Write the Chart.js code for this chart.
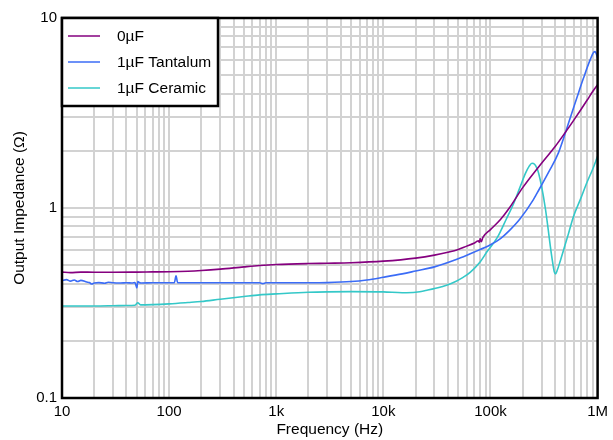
<!DOCTYPE html>
<html>
<head>
<meta charset="utf-8">
<script src="https://cdn.jsdelivr.net/npm/chart.js@4.4.1/dist/chart.umd.min.js"></script>
<style>
  body { margin: 0; background: #fff; }
  #wrap { width: 613px; height: 440px; }
</style>
</head>
<body>
<div id="wrap"><canvas id="impedanceChart" width="613" height="440"></canvas></div>
<script>
// 0uF
const freq0 = [10, 12, 15, 20, 30, 50, 70, 100, 150, 200, 300, 500, 700, 1000, 2000, 3000, 5000, 10000,
  20000, 30000, 40000, 50000, 60000, 70000, 75000, 77000, 79000, 80000, 82000, 85000, 100000, 124000,
  150000, 200000, 300000, 400000, 500000, 600000, 700000, 800000, 900000, 1000000];
const z0 = [0.46, 0.457, 0.46, 0.459, 0.459, 0.46, 0.461, 0.462, 0.465, 0.469, 0.477, 0.49, 0.498, 0.504, 0.51, 0.512, 0.515, 0.525,
  0.545, 0.565, 0.585, 0.605, 0.63, 0.652, 0.668, 0.672, 0.66, 0.69, 0.665, 0.7, 0.77, 0.87,
  1.0, 1.28, 1.72, 2.1, 2.5, 2.9, 3.3, 3.7, 4.1, 4.45];

// 1uF Tantalum
const freqT = [10, 11, 12, 13, 14, 15, 17, 18, 19, 20, 22, 25, 27, 30, 35, 40, 45, 48, 50, 51, 53, 55, 70, 100,
  112, 116, 120, 150, 300, 700, 750, 800, 1000, 2000, 3000, 5000, 7000, 10000, 15000, 20000, 30000, 50000,
  70000, 100000, 124000, 150000, 190000, 250000, 282000, 350000, 431000, 554000, 650000, 736000, 850000,
  920000, 950000, 980000, 1000000];
const zT = [0.415, 0.42, 0.412, 0.418, 0.41, 0.416, 0.408, 0.405, 0.398, 0.403, 0.405, 0.402, 0.407, 0.404, 0.403, 0.404, 0.403, 0.405, 0.38, 0.41, 0.404, 0.403, 0.404, 0.404,
  0.405, 0.44, 0.405, 0.404, 0.404, 0.404, 0.4, 0.404, 0.404, 0.404, 0.405, 0.41, 0.418, 0.432, 0.45, 0.466, 0.49, 0.54,
  0.585, 0.64, 0.69, 0.76, 0.88, 1.1, 1.24, 1.55, 1.95, 2.97, 3.9, 4.8, 6.0,
  6.6, 6.65, 6.4, 6.1];

// 1uF Ceramic
const freqC = [10, 15, 20, 30, 40, 48, 51, 54, 70, 100, 150, 200, 300, 500, 700, 1000, 2000, 3000, 5000, 10000,
  15000, 20000, 26000, 35000, 43000, 55000, 65000, 80000, 93000, 116000, 140000, 165000, 190000, 212000,
  230000, 244000, 258000, 270000, 282000, 300000, 325000, 345000, 362000, 380000, 395000, 405000, 420000,
  450000, 481000, 530000, 595000, 700000, 790000, 900000, 1000000];
const zC = [0.305, 0.305, 0.305, 0.306, 0.307, 0.308, 0.317, 0.309, 0.31, 0.313, 0.318, 0.322, 0.331, 0.342, 0.349, 0.353, 0.36, 0.362, 0.363, 0.362,
  0.358, 0.36, 0.37, 0.385, 0.4, 0.43, 0.46, 0.52, 0.59, 0.7, 0.87, 1.06, 1.3, 1.52,
  1.66, 1.72, 1.7, 1.63, 1.52, 1.3, 1.0, 0.78, 0.63, 0.52, 0.46, 0.45, 0.47,
  0.53, 0.6, 0.72, 0.9, 1.13, 1.35, 1.6, 1.87];

const seriesLabels = ["0\u00b5F", "1\u00b5F Tantalum", "1\u00b5F Ceramic"];
const seriesColors = ["#85007f", "#3b6cf6", "#34c8c8"];

const xDecades = [10, 100, 1000, 10000, 100000, 1000000];
const xTickLabels = ["10", "100", "1k", "10k", "100k", "1M"];
const yDecades = [0.1, 1, 10];
const yTickLabels = ["0.1", "1", "10"];

const FONT = "'Liberation Sans', Arial, sans-serif";

function toPoints(xs, ys) {
  return xs.map((x, i) => ({ x, y: ys[i] }));
}

// 1..9 x each decade, for the grid
function logTicks(decades) {
  const out = [];
  decades.forEach((d, i) => {
    const last = i === decades.length - 1;
    for (let m = 1; m <= (last ? 1 : 9); m++) {
      out.push({ value: Number((m * d).toPrecision(10)) });
    }
  });
  return out;
}

function labelFor(decades, labels, value) {
  const idx = decades.findIndex((d) => Math.abs(d - value) / d < 1e-6);
  return idx >= 0 ? labels[idx] : "";
}

const boxPlugin = {
  id: "boxAndLegend",
  afterDraw(chart) {
    const { ctx, chartArea: a } = chart;
    ctx.save();
    ctx.strokeStyle = "#000";
    ctx.lineWidth = 2.5;
    ctx.strokeRect(a.left, a.top, a.right - a.left, a.bottom - a.top);

    // legend box in upper left corner
    const lx = a.left, ly = a.top, lw = 156, lh = 88;
    ctx.fillStyle = "#fff";
    ctx.fillRect(lx, ly, lw, lh);
    ctx.strokeRect(lx, ly, lw, lh);
    ctx.font = "15.5px " + FONT;
    ctx.textBaseline = "middle";
    chart.data.datasets.forEach((ds, i) => {
      const yy = ly + 18 + i * 26;
      ctx.strokeStyle = ds.borderColor;
      ctx.lineWidth = 1.5;
      ctx.beginPath();
      ctx.moveTo(lx + 6, yy);
      ctx.lineTo(lx + 38, yy);
      ctx.stroke();
      ctx.fillStyle = "#000";
      ctx.fillText(ds.label, lx + 55, yy + 1);
    });
    ctx.restore();
  }
};

const ctx = document.getElementById("impedanceChart").getContext("2d");

new Chart(ctx, {
  type: "line",
  data: {
    datasets: [
      { label: seriesLabels[0], data: toPoints(freq0, z0), borderColor: seriesColors[0] },
      { label: seriesLabels[1], data: toPoints(freqT, zT), borderColor: seriesColors[1] },
      { label: seriesLabels[2], data: toPoints(freqC, zC), borderColor: seriesColors[2] }
    ].map((d) => ({ ...d, borderWidth: 1.6, pointRadius: 0, cubicInterpolationMode: "monotone", fill: false }))
  },
  options: {
    responsive: false,
    animation: false,
    layout: { padding: { top: 18, right: 12, left: 0, bottom: 0 } },
    plugins: {
      legend: { display: false },
      tooltip: { enabled: false }
    },
    scales: {
      x: {
        type: "logarithmic",
        min: 10,
        max: 1000000,
        afterBuildTicks: (scale) => { scale.ticks = logTicks(xDecades); },
        afterFit: (scale) => { scale.height = 42; },
        grid: { color: "#d2d2d2", lineWidth: 2, drawTicks: false },
        border: { display: false },
        ticks: {
          autoSkip: false,
          maxRotation: 0,
          padding: 5,
          color: "#000",
          font: { family: FONT, size: 15 },
          callback: (v) => labelFor(xDecades, xTickLabels, v)
        },
        title: {
          display: true,
          text: "Frequency (Hz)",
          color: "#000",
          font: { family: FONT, size: 15.5 },
          padding: { top: 0, bottom: 1 }
        }
      },
      y: {
        type: "logarithmic",
        min: 0.1,
        max: 10,
        afterBuildTicks: (scale) => { scale.ticks = logTicks(yDecades); },
        afterFit: (scale) => { scale.width = 62; },
        grid: { color: "#d2d2d2", lineWidth: 2, drawTicks: false },
        border: { display: false },
        ticks: {
          autoSkip: false,
          padding: 5,
          color: "#000",
          font: { family: FONT, size: 15 },
          callback: (v) => labelFor(yDecades, yTickLabels, v)
        },
        title: {
          display: true,
          text: "Output Impedance (\u03a9)",
          color: "#000",
          font: { family: FONT, size: 15.5 },
          padding: { top: 10, bottom: 0 }
        }
      }
    }
  },
  plugins: [boxPlugin]
});
</script>
</body>
</html>
